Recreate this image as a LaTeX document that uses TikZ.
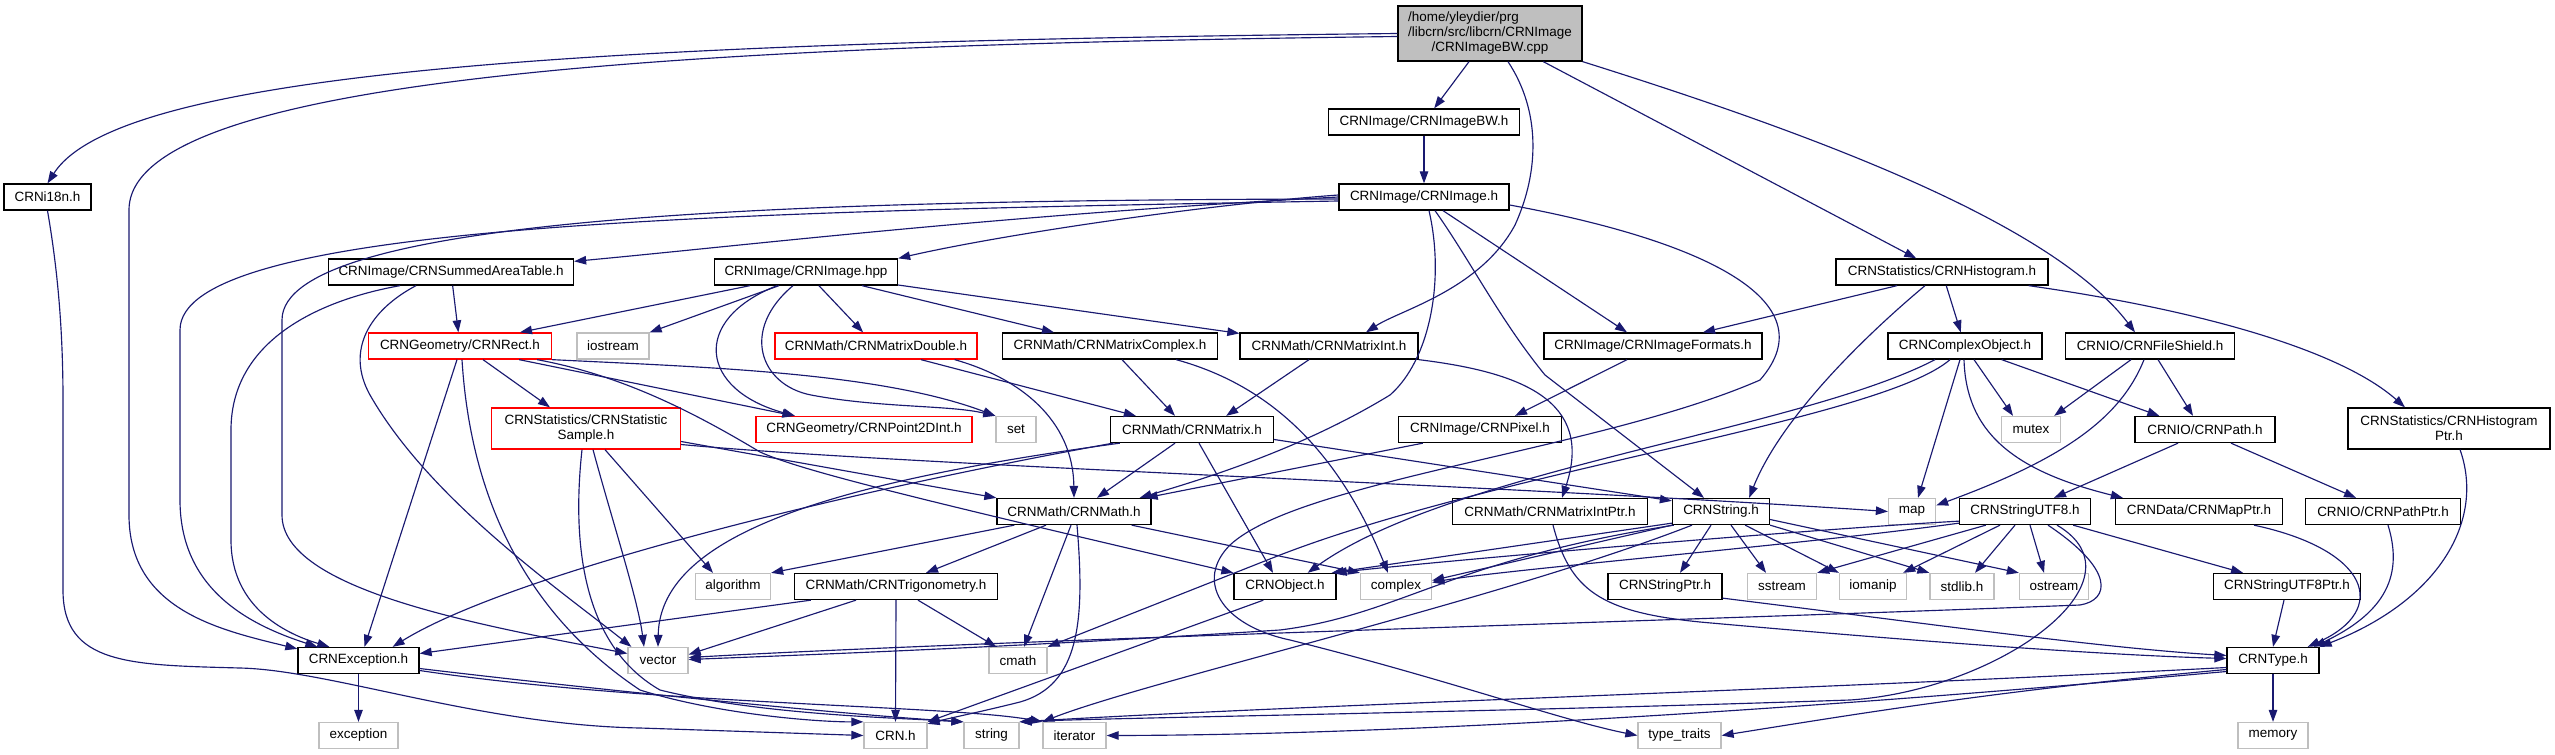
\documentclass[tikz,border=0pt]{standalone}
\usepackage{fontspec}
\setmainfont{Liberation Sans}
\usetikzlibrary{arrows.meta,calc}
\definecolor{ecol}{HTML}{191970}
\definecolor{gbord}{HTML}{BFBFBF}
\definecolor{rootfill}{HTML}{BFBFBF}
\newcommand\lab{\fontsize{13.5}{15}\selectfont}
\newcommand\mynode[6]{\node[#1,minimum width=#5bp] (#2) at (#3,#4) {#6};}
\begin{document}
\begin{tikzpicture}[x=1bp,y=-1bp,
  nb/.style={draw=black,line width=1.3bp,inner sep=0pt,minimum height=26bp,font=\lab,fill=white,align=center},
  nr/.style={nb,draw=red},
  ng/.style={nb,draw=gbord},
  e/.style={draw=ecol,line width=1.15bp,-{Triangle[length=12bp,width=8.5bp]}}]
\useasboundingbox (0,0) rectangle (2555,755);
% nodes
\node[nb,fill=rootfill,minimum width=184bp,minimum height=55bp] (root) at (1490,33.5)
 {\begin{tabular}{@{}l@{}}/home/yleydier/prg\\/libcrn/src/libcrn/CRNImage\\\multicolumn{1}{@{}c@{}}{/CRNImageBW.cpp}\end{tabular}};
\mynode{nb}{bw}{1424}{122}{191}{CRNImage/CRNImageBW.h}
\mynode{nb}{img}{1424}{197}{170}{CRNImage/CRNImage.h}
\mynode{nb}{i18n}{47.5}{197}{87}{CRNi18n.h}
\mynode{nb}{sat}{451}{272}{245}{CRNImage/CRNSummedAreaTable.h}
\mynode{nb}{hpp}{806}{272}{183}{CRNImage/CRNImage.hpp}
\mynode{nb}{hist}{1942}{272}{212}{CRNStatistics/CRNHistogram.h}
\mynode{nr}{rect}{460}{346}{183}{CRNGeometry/CRNRect.h}
\mynode{ng}{ios}{613}{346}{72}{iostream}
\mynode{nr}{mdouble}{876}{346}{202}{CRNMath/CRNMatrixDouble.h}
\mynode{nb}{mcomplex}{1110}{346}{215}{CRNMath/CRNMatrixComplex.h}
\mynode{nb}{mint}{1329}{346}{178}{CRNMath/CRNMatrixInt.h}
\mynode{nb}{fmt}{1653}{346}{218}{CRNImage/CRNImageFormats.h}
\mynode{nb}{cobj}{1965}{346}{154}{CRNComplexObject.h}
\mynode{nb}{fs}{2150}{346}{169}{CRNIO/CRNFileShield.h}
\node[nr,minimum width=189bp,minimum height=41bp] (ss) at (586,428.5) {CRNStatistics/CRNStatistic\\Sample.h};
\mynode{nr}{p2d}{864}{429.5}{216}{CRNGeometry/CRNPoint2DInt.h}
\mynode{ng}{set}{1016}{429.5}{40}{set}
\mynode{nb}{matrix}{1192}{429.5}{163}{CRNMath/CRNMatrix.h}
\mynode{nb}{pixel}{1480}{429.5}{163}{CRNImage/CRNPixel.h}
\mynode{ng}{mutex}{2031}{429.5}{59}{mutex}
\mynode{nb}{path}{2205}{429.5}{140}{CRNIO/CRNPath.h}
\node[nb,minimum width=202bp,minimum height=41bp] (hptr) at (2449,428.5) {CRNStatistics/CRNHistogram\\Ptr.h};
\mynode{nb}{math}{1074}{511.5}{154}{CRNMath/CRNMath.h}
\mynode{nb}{mintptr}{1550}{511.5}{195}{CRNMath/CRNMatrixIntPtr.h}
\mynode{nb}{str}{1721}{511.5}{97}{CRNString.h}
\mynode{ng}{map}{1912}{511.5}{47}{map}
\mynode{nb}{utf8}{2025}{511.5}{131}{CRNStringUTF8.h}
\mynode{nb}{mapptr}{2199}{511.5}{167}{CRNData/CRNMapPtr.h}
\mynode{nb}{pathptr}{2383}{511.5}{155}{CRNIO/CRNPathPtr.h}
\mynode{ng}{alg}{733}{586.5}{75}{algorithm}
\mynode{nb}{trig}{896}{586.5}{203}{CRNMath/CRNTrigonometry.h}
\mynode{nb}{crnobj}{1285}{586.5}{102}{CRNObject.h}
\mynode{ng}{complex}{1396}{586.5}{71}{complex}
\mynode{nb}{strptr}{1665}{586.5}{114}{CRNStringPtr.h}
\mynode{ng}{sstream}{1782}{586.5}{69}{sstream}
\mynode{ng}{iomanip}{1873}{586.5}{67}{iomanip}
\mynode{ng}{stdlib}{1962}{586.5}{64}{stdlib.h}
\mynode{ng}{ostream}{2054}{586.5}{69}{ostream}
\mynode{nb}{utf8ptr}{2287}{586.5}{147}{CRNStringUTF8Ptr.h}
\mynode{nb}{exc}{358.5}{660.5}{121}{CRNException.h}
\mynode{ng}{vec}{658}{660.5}{60}{vector}
\mynode{ng}{cmath}{1018}{660.5}{58}{cmath}
\mynode{nb}{type}{2273}{660.5}{92}{CRNType.h}
\mynode{ng}{exception}{358.5}{735.5}{79}{exception}
\mynode{ng}{crnh}{895.5}{735.5}{63}{CRN.h}
\mynode{ng}{strg}{991.5}{735.5}{55}{string}
\mynode{ng}{iter}{1074.5}{735.5}{63}{iterator}
\mynode{ng}{tt}{1679.5}{735.5}{83}{type\_traits}
\mynode{ng}{memory}{2273}{735.5}{70}{memory}
% root
\draw[e] (root.west) .. controls (600,42) and (120,70) .. (i18n.north);
\draw[e] ($(root.west)+(0,3)$) .. controls (700,45) and (129,75) .. (129,210) -- (129,515) .. controls (129,610) and (220,630) .. ($(exc.north west)+(0,2)$);
\draw[e] (root) -- (bw);
\draw[e] ($(root.south)+(18,0)$) .. controls (1540,110) and (1540,170) .. (1515,225) .. controls (1480,290) and (1400,310) .. ($(mint.north)+(37,0)$);
\draw[e] (root) -- (hist);
\draw[e] (root.south east) .. controls (1800,130) and (2050,220) .. ($(fs.north)+(-15,0)$);
% i18n
\draw[e] (i18n.south) .. controls (56,260) and (63,320) .. (63,400) -- (63,590) .. controls (63,665) and (130,665) .. (240,668) .. controls (330,670) and (480,725) .. (640,728) -- (crnh.west);
\draw[e] (bw) -- (img);
% img
\draw[e] (img.west) .. controls (1000,215) and (750,245) .. ($(sat.north east)+(0,3)$);
\draw[e] ($(img.west)+(0,-2)$) .. controls (1200,205) and (1000,235) .. (hpp.north east);
\draw[e] ($(img.west)+(0,4)$) .. controls (700,212) and (180,225) .. (180,330) -- (180,500) .. controls (180,590) and (250,625) .. ($(exc.north west)+(20,0)$);
\draw[e] ($(img.west)+(0,2)$) .. controls (800,200) and (282,215) .. (282,320) -- (282,515) .. controls (282,590) and (480,625) .. ($(vec.west)+(0,-7)$);
\draw[e] ($(img.south)+(5,0)$) .. controls (1445,280) and (1430,360) .. (1390,395) .. controls (1300,450) and (1200,480) .. ($(math.north east)+(-12,0)$);
\draw[e] ($(img.south)+(11,0)$) .. controls (1470,260) and (1500,320) .. (1545,375) -- ($(str.north)+(-17,0)$);
\draw[e] ($(img.south)+(19,0)$) -- ($(fmt.north)+(-26,0)$);
\draw[e] ($(img.east)+(0,8)$) .. controls (1700,240) and (1830,300) .. (1760,380) .. controls (1600,450) and (1300,480) .. (1230,545) .. controls (1195,580) and (1220,625) .. (1290,640) .. controls (1450,680) and (1560,720) .. (tt.west);
% sat
\draw[e] (sat) -- (rect);
\draw[e] ($(sat.south)+(-51,0)$) .. controls (320,300) and (231,340) .. (231,430) -- (231,540) .. controls (231,610) and (290,635) .. ($(exc.north west)+(32,0)$);
\draw[e] ($(sat.south)+(-35,0)$) .. controls (370,310) and (345,350) .. (370,395) .. controls (430,500) and (560,590) .. ($(vec.north west)+(4,0)$);
% hpp
\draw[e] ($(hpp.south)+(-56,0)$) -- ($(rect.north)+(60,0)$);
\draw[e] ($(hpp.south)+(-27,0)$) -- (ios.north east);
\draw[e] ($(hpp.south)+(-29,0)$) .. controls (690,320) and (700,390) .. ($(p2d.north)+(-69,0)$);
\draw[e] ($(hpp.south)+(-13,0)$) .. controls (740,330) and (760,385) .. (811,395) .. controls (880,408) and (950,405) .. (set.north west);
\draw[e] (hpp) -- (mdouble);
\draw[e] (hpp) -- (mcomplex);
\draw[e] (hpp) -- (mint);
% rect
\draw[e] ($(rect.south)+(-3,0)$) -- ($(exc.north)+(6,0)$);
\draw[e] ($(rect.south)+(23,0)$) -- ($(ss.north)+(-36,0)$);
\draw[e] ($(rect.south east)+(-33,0)$) -- ($(p2d.north west)+(39,0)$);
\draw[e] (rect.south east) .. controls (700,367) and (880,372) .. (set.north west);
\draw[e] ($(rect.south east)+(-15,0)$) .. controls (620,375) and (690,410) .. (760,452) .. controls (800,470) and (900,495) .. (crnobj.north west);
\draw[e] ($(rect.south)+(2,0)$) .. controls (470,490) and (520,610) .. (640,690) .. controls (720,715) and (820,722) .. (crnh.north west);
% ss
\draw[e] ($(ss.east)+(0,13)$) -- (math.north west);
\draw[e] ($(ss.east)+(0,16)$) .. controls (900,465) and (1500,485) .. (map.west);
\draw[e] ($(ss.south)+(19,0)$) -- ($(alg.north)+(-20,0)$);
\draw[e] ($(ss.south)+(7,0)$) .. controls (612,520) and (638,600) .. ($(vec.north)+(-14,0)$);
\draw[e] ($(ss.south)+(-4,0)$) .. controls (570,560) and (590,650) .. (660,690) .. controls (760,715) and (900,718) .. (strg.north west);
% matrices
\draw[e] ($(mdouble.south)+(45,0)$) -- ($(matrix.north west)+(26,0)$);
\draw[e] ($(mdouble.south east)+(-23,0)$) .. controls (1020,378) and (1073,420) .. (math.north);
\draw[e] ($(mcomplex.south)+(12,0)$) -- ($(matrix.north)+(-17,0)$);
\draw[e] ($(mcomplex.south east)+(-42,0)$) .. controls (1250,380) and (1330,430) .. ($(complex.north)+(-8,0)$);
\draw[e] ($(mint.south)+(-20,0)$) -- ($(matrix.north east)+(-48,0)$);
\draw[e] (mint.south east) .. controls (1520,372) and (1595,400) .. ($(mintptr.north)+(12,0)$);
\draw[e] ($(fmt.south)+(-26,0)$) -- ($(pixel.north)+(35,0)$);
% hist
\draw[e] ($(hist.south)+(-45,0)$) -- ($(fmt.north)+(50,0)$);
\draw[e] (hist) -- (cobj);
\draw[e] ($(hist.south east)+(-20,0)$) .. controls (2200,310) and (2340,350) .. ($(hptr.north)+(-44,0)$);
\draw[e] ($(hist.south)+(-17,0)$) .. controls (1860,340) and (1780,420) .. ($(str.north east)+(-21,0)$);
% cobj
\draw[e] ($(cobj.south)+(-30,0)$) .. controls (1800,430) and (1450,470) .. ($(crnobj.north east)+(-29,0)$);
\draw[e] ($(cobj.south)+(-15,0)$) .. controls (1880,420) and (1500,470) .. (1280,555) -- (cmath.north east);
\draw[e] ($(cobj.south)+(-5,0)$) -- ($(map.north)+(6,0)$);
\draw[e] ($(cobj.south)+(-1,0)$) .. controls (1966,430) and (2010,470) .. ($(mapptr.north west)+(8,0)$);
\draw[e] ($(cobj.south)+(9,0)$) -- ($(mutex.north)+(-18,0)$);
\draw[e] ($(cobj.south east)+(-41,0)$) -- ($(path.north west)+(25,0)$);
% fs
\draw[e] ($(fs.south)+(-19,0)$) -- ($(mutex.north east)+(-7,0)$);
\draw[e] ($(fs.south)+(-6,0)$) .. controls (2120,420) and (2060,460) .. ($(map.east)+(0,-6)$);
\draw[e] ($(fs.south)+(8,0)$) -- ($(path.north)+(-12,0)$);
% path
\draw[e] ($(path.south)+(-27,0)$) -- ($(utf8.north)+(29,0)$);
\draw[e] ($(path.south)+(26,0)$) -- ($(pathptr.north)+(-27,0)$);
% to type
\draw[e] ($(hptr.south)+(11,0)$) .. controls (2485,520) and (2440,600) .. (type.north east);
\draw[e] ($(pathptr.south)+(5,0)$) .. controls (2405,580) and (2380,615) .. ($(type.north east)+(-6,0)$);
\draw[e] ($(mapptr.south)+(55,0)$) .. controls (2370,550) and (2390,610) .. ($(type.north east)+(-12,0)$);
\draw[e] ($(utf8ptr.south)+(-3,0)$) -- (type.north);
\draw[e] (type) -- (memory);
\draw[e] ($(type.west)+(0,9)$) .. controls (2000,690) and (1850,715) .. (tt.east);
\draw[e] ($(type.west)+(0,11)$) .. controls (1800,710) and (1400,735) .. (iter.east);
\draw[e] ($(type.west)+(0,7)$) .. controls (1800,690) and (1300,705) .. (strg.north east);
% utf8
\draw[e] ($(utf8.south east)+(-18,0)$) -- ($(utf8ptr.north)+(-44,0)$);
\draw[e] ($(utf8.south)+(5,0)$) -- ($(ostream.north)+(-10,0)$);
\draw[e] ($(utf8.south)+(-10,0)$) -- ($(stdlib.north)+(13,0)$);
\draw[e] ($(utf8.south)+(-25,0)$) -- ($(iomanip.north east)+(-4,0)$);
\draw[e] ($(utf8.south west)+(27,0)$) -- (sstream.north east);
\draw[e] ($(utf8.south west)+(0,-2)$) .. controls (1800,545) and (1500,570) .. ($(complex.east)+(0,-4)$);
\draw[e] ($(utf8.south west)+(0,-4)$) .. controls (1800,530) and (1450,560) .. ($(crnobj.north east)+(-2,0)$);
\draw[e] ($(utf8.south)+(23,0)$) .. controls (2115,570) and (2110,600) .. (2080,605) .. controls (1700,620) and (1000,640) .. ($(vec.east)+(0,-3)$);
\draw[e] ($(utf8.south)+(32,0)$) .. controls (2150,580) and (2000,690) .. (1850,700) .. controls (1500,712) and (1100,718) .. (strg.north east);
% str
\draw[e] ($(str.south west)+(0,-2)$) -- ($(crnobj.north east)+(-5,0)$);
\draw[e] (str.south west) -- ($(complex.east)+(0,-6)$);
\draw[e] ($(str.south west)+(2,0)$) .. controls (1450,560) and (1400,615) .. (1280,630) .. controls (1000,648) and (800,655) .. ($(vec.east)+(0,-1)$);
\draw[e] ($(str.south)+(-29,0)$) .. controls (1500,600) and (1150,680) .. (iter.north west);
\draw[e] ($(str.south)+(-10,0)$) -- ($(strptr.north)+(15,0)$);
\draw[e] ($(str.south)+(10,0)$) -- ($(sstream.north)+(-16,0)$);
\draw[e] ($(str.south east)+(-25,0)$) -- (iomanip.north west);
\draw[e] (str.south east) -- (stdlib.north west);
\draw[e] ($(str.east)+(0,8)$) -- (ostream.north west);
% ptrs
\draw[e] ($(mintptr.south)+(3,0)$) .. controls (1570,590) and (1600,612) .. (1700,622) .. controls (1900,640) and (2100,655) .. ($(type.west)+(0,-2)$);
\draw[e] ($(strptr.south east)+(0,-2)$) .. controls (1900,620) and (2100,648) .. ($(type.west)+(0,-5)$);
% matrix
\draw[e] ($(matrix.south)+(-17,0)$) -- ($(math.north)+(23,0)$);
\draw[e] ($(matrix.south)+(7,0)$) -- ($(crnobj.north)+(-12,0)$);
\draw[e] ($(matrix.east)+(0,10)$) -- ($(str.north west)+(0,3)$);
\draw[e] ($(matrix.south west)+(10,0)$) .. controls (850,480) and (660,530) .. (vec.north);
\draw[e] ($(matrix.south west)+(3,0)$) .. controls (800,500) and (500,580) .. ($(exc.north east)+(-27,0)$);
\draw[e] ($(pixel.south west)+(25,0)$) -- ($(math.north east)+(-6,0)$);
\draw[e] ($(crnobj.south west)+(30,0)$) -- (crnh.north east);
% math
\draw[e] ($(math.south)+(3,0)$) .. controls (1085,620) and (1080,685) .. (1020,702) .. controls (980,712) and (950,718) .. ($(crnh.north east)+(0,2)$);
\draw[e] ($(math.south west)+(18,0)$) -- (alg.north east);
\draw[e] ($(math.south)+(-28,0)$) -- ($(trig.north)+(30,0)$);
\draw[e] ($(math.south)+(-3,0)$) -- ($(cmath.north)+(6,0)$);
\draw[e] ($(math.south east)+(-20,0)$) -- (complex.north west);
% trig
\draw[e] ($(trig.south west)+(17,0)$) -- ($(exc.east)+(0,-7)$);
\draw[e] ($(trig.south)+(-40,0)$) -- ($(vec.east)+(0,-6)$);
\draw[e] (trig.south) -- (crnh.north);
\draw[e] ($(trig.south)+(22,0)$) -- ($(cmath.north west)+(8,0)$);
% exc
\draw[e] (exc) -- (exception);
\draw[e] ($(exc.east)+(0,8)$) .. controls (600,690) and (850,715) .. (strg.north west);
\draw[e] ($(exc.east)+(0,10)$) .. controls (650,705) and (950,705) .. (iter.north west);
\end{tikzpicture}
\end{document}
